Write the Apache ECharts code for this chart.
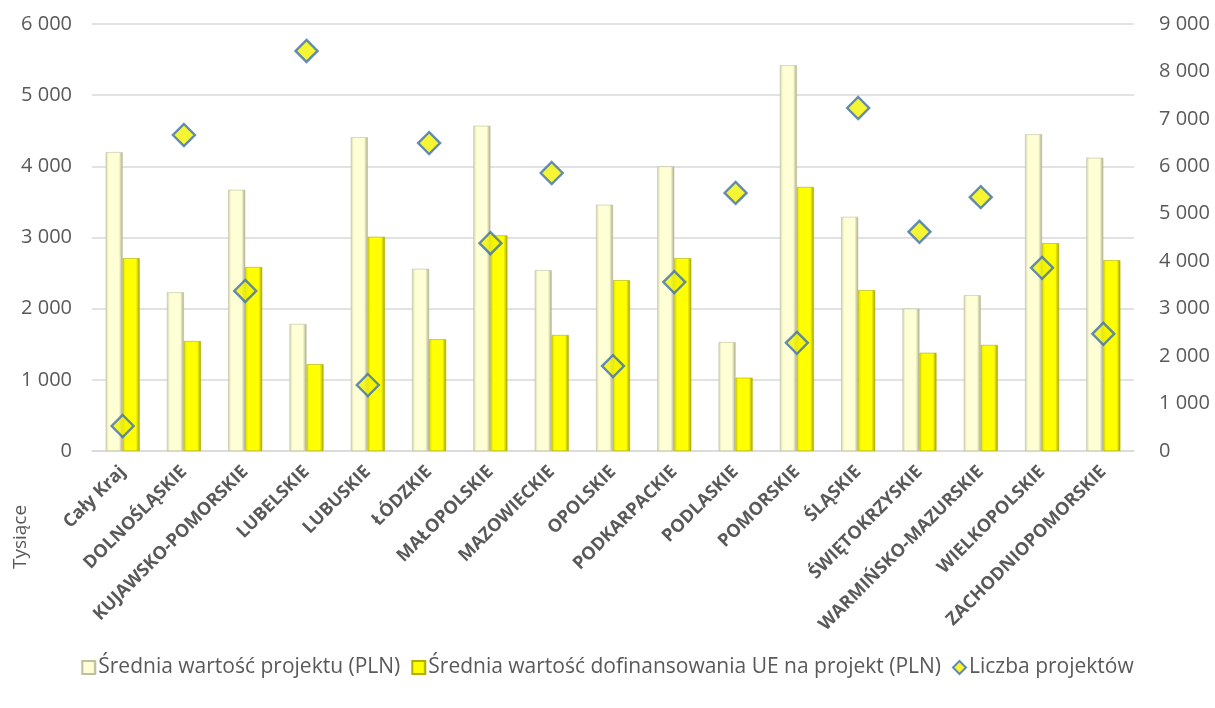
<!DOCTYPE html>
<html><head><meta charset="utf-8">
<script src="https://cdn.jsdelivr.net/npm/echarts@6/dist/echarts.min.js"></script>
<style>html,body{margin:0;padding:0;background:#fff}#c{width:1215px;height:708px}</style>
</head><body><div id="c"></div>
<script>
const categories = ['Cały Kraj','DOLNOŚLĄSKIE','KUJAWSKO-POMORSKIE','LUBELSKIE','LUBUSKIE','ŁÓDZKIE','MAŁOPOLSKIE','MAZOWIECKIE','OPOLSKIE','PODKARPACKIE','PODLASKIE','POMORSKIE','ŚLĄSKIE','ŚWIĘTOKRZYSKIE','WARMIŃSKO-MAZURSKIE','WIELKOPOLSKIE','ZACHODNIOPOMORSKIE'];
const sredniaWartosc = [4200,2230,3670,1785,4410,2560,4570,2540,3460,4000,1530,5420,3290,2000,2190,4450,4120];
const sredniaDofinansowanie = [2710,1545,2585,1220,3010,1570,3030,1630,2400,2710,1030,3710,2260,1380,1490,2920,2680];
const liczbaProjektow = [527,6660,3373,8432,1391,6490,4380,5860,1790,3560,5440,2280,7230,4620,5350,3860,2470];
const names = ['Średnia wartość projektu (PLN)','Średnia wartość dofinansowania UE na projekt (PLN)','Liczba projektów'];

const fmt = v => String(v).replace(/\B(?=(\d{3})+(?!\d))/g, '\u00a0');
const grad = (edgeL, mid, edgeR) => new echarts.graphic.LinearGradient(0,0,1,0,[
  {offset:0,color:edgeL},{offset:0.18,color:mid},{offset:0.78,color:mid},{offset:1,color:edgeR}]);
const font = '"Open Sans", sans-serif';
const chart = echarts.init(document.getElementById('c'));
chart.setOption({
  animation:false,
  textStyle:{fontFamily:font},
  grid:{left:92,right:81,top:24,bottom:257},
  legend:{bottom:25,left:'center',itemWidth:13,itemHeight:13,itemGap:11,
    textStyle:{fontSize:21,color:'#595959',fontFamily:font,padding:[0,0,0,-2]},
    data:[{name:names[0],icon:'rect'},{name:names[1],icon:'rect'},{name:names[2],icon:'diamond'}]},
  xAxis:{type:'category',data:categories,
    axisLine:{lineStyle:{color:'#D9D9D9',width:1.5}},axisTick:{show:false},
    axisLabel:{rotate:45,interval:0,fontSize:18,fontWeight:'bold',color:'#595959',margin:18}},
  yAxis:[
    {type:'value',min:0,max:6000,interval:1000,
      axisLabel:{fontSize:20,color:'#595959',margin:20,formatter:fmt},
      splitLine:{lineStyle:{color:'#D9D9D9',width:1.5}},axisLine:{show:false},axisTick:{show:false}},
    {type:'value',min:0,max:9000,interval:1000,
      axisLabel:{fontSize:20,color:'#595959',margin:25,formatter:fmt},
      splitLine:{show:false},axisLine:{show:false},axisTick:{show:false}}
  ],
  graphic:[{type:'text',x:21,y:537,rotation:Math.PI/2,
    style:{text:'Tysiące',fontSize:19,fill:'#595959',fontFamily:font,align:'center',verticalAlign:'middle'}}],
  series:[
    {name:names[0],type:'bar',data:sredniaWartosc,barWidth:17,barGap:'0%',
      itemStyle:{color:grad('#D2D2B0','#FFFFD6','#A8A888'),borderColor:'#C0C0A0',borderWidth:0.6}},
    {name:names[1],type:'bar',data:sredniaDofinansowanie,barWidth:17,
      itemStyle:{color:grad('#D8D800','#FFFF00','#A0A000'),borderColor:'#B0B000',borderWidth:0.6}},
    {name:names[2],type:'scatter',yAxisIndex:1,data:liczbaProjektow,symbol:'diamond',symbolSize:22,
      itemStyle:{color:'#F2F200',borderColor:'#3D6FB0',borderWidth:2.4},z:5}
  ]
});
</script></body></html>
